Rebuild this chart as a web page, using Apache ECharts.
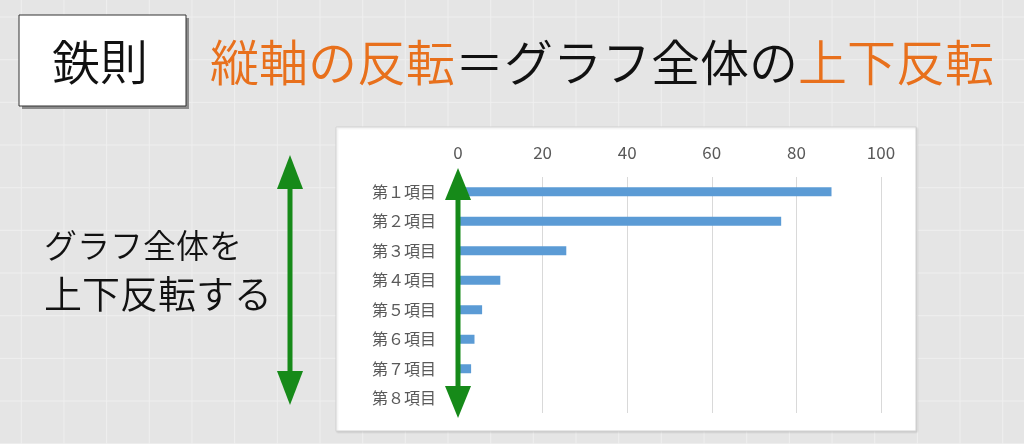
<!DOCTYPE html>
<html>
<head>
<meta charset="utf-8">
<script src="https://cdn.jsdelivr.net/npm/echarts@6/dist/echarts.min.js"></script>
<style>
  html, body { margin: 0; padding: 0; }
  #chart { width: 1024px; height: 444px; }
</style>
</head>
<body>
<div id="chart"></div>
<script>
// 項目名（上から順）
const categories = ['第１項目', '第２項目', '第３項目', '第４項目', '第５項目', '第６項目', '第７項目', '第８項目']
// 各項目の値
const values = [88.3, 76.4, 25.6, 10.0, 5.7, 3.9, 3.1, 0]
// 横軸の目盛
const xTicks = [0, 20, 40, 60, 80, 100]

const FONT = 'Noto Sans CJK JP'
const GREEN = '#168a19'
const ORANGE = '#e8701c'
const W = 350 // 文字の太さ

const chart = echarts.init(document.getElementById('chart'))

// 背景の方眼
const bgLines = []
for (let x = 21.3; x < 1024; x += 42.67) {
  bgLines.push({ type: 'line', z: -5, silent: true, shape: { x1: x, y1: 0, x2: x, y2: 444 }, style: { stroke: '#efefef', lineWidth: 1 } })
}
for (let y = 17; y < 444; y += 42.67) {
  bgLines.push({ type: 'line', z: -5, silent: true, shape: { x1: 0, y1: y, x2: 1024, y2: y }, style: { stroke: '#efefef', lineWidth: 1 } })
}

// 両矢印
function arrow (cx, top, bottom, head, half) {
  return [
    { type: 'line', z: 20, shape: { x1: cx, y1: top + head - 2, x2: cx, y2: bottom - head + 2 }, style: { stroke: GREEN, lineWidth: 5 } },
    { type: 'polygon', z: 20, shape: { points: [[cx, top], [cx - half, top + head], [cx + half, top + head]] }, style: { fill: GREEN } },
    { type: 'polygon', z: 20, shape: { points: [[cx, bottom], [cx - half, bottom - head], [cx + half, bottom - head]] }, style: { fill: GREEN } }
  ]
}

const option = {
  backgroundColor: '#e5e5e5',
  animation: false,
  textStyle: { fontFamily: FONT },
  grid: { left: 458, right: 143, top: 177, bottom: 31 },
  xAxis: {
    type: 'value',
    position: 'top',
    min: xTicks[0],
    max: xTicks[xTicks.length - 1],
    interval: xTicks[1] - xTicks[0],
    axisLine: { show: false },
    axisTick: { show: false },
    axisLabel: { color: '#595959', fontSize: 17, fontFamily: FONT, margin: 16 },
    splitLine: { lineStyle: { color: '#d9d9d9', width: 1 } }
  },
  yAxis: {
    type: 'category',
    inverse: true,
    data: categories,
    axisLine: { lineStyle: { color: '#bfbfbf' } },
    axisTick: { show: false },
    axisLabel: { color: '#595959', fontSize: 16, fontFamily: FONT, margin: 22 }
  },
  series: [{
    type: 'bar',
    data: values,
    barWidth: 9,
    itemStyle: { color: '#5b9bd5' }
  }],
  graphic: [
    ...bgLines,
    // グラフ領域
    { type: 'rect', z: -2, silent: true, shape: { x: 336, y: 127, width: 580, height: 304 }, style: { fill: '#ffffff', stroke: '#d4d4d4', lineWidth: 1, shadowColor: 'rgba(0,0,0,0.12)', shadowBlur: 2, shadowOffsetX: 1, shadowOffsetY: 1 } },
    // 鉄則ボックス
    { type: 'rect', z: -1, shape: { x: 22, y: 18, width: 167, height: 91 }, style: { fill: '#8c8c8c' } },
    { type: 'rect', z: 1, shape: { x: 19, y: 15, width: 167, height: 91 }, style: { fill: '#ffffff', stroke: '#333333', lineWidth: 1 } },
    { type: 'text', z: 2, x: 100, y: 62, style: { text: '鉄則', fontFamily: FONT, fontWeight: W, fontSize: 48, fill: '#111111', align: 'center', verticalAlign: 'middle' } },
    // タイトル
    {
      type: 'text', z: 2, x: 210, y: 62,
      style: {
        text: '{o|縦軸の反転}{k|＝グラフ全体の}{o|上下反転}',
        fontFamily: FONT, fontSize: 49, fontWeight: W, verticalAlign: 'middle',
        rich: {
          o: { fill: ORANGE, fontSize: 49, fontWeight: W, fontFamily: FONT },
          k: { fill: '#111111', fontSize: 49, fontWeight: W, fontFamily: FONT }
        }
      }
    },
    // 左の説明
    { type: 'text', z: 2, x: 44, y: 245, style: { text: 'グラフ全体を', fontFamily: FONT, fontWeight: W, fontSize: 33, fill: '#111111', verticalAlign: 'middle' } },
    { type: 'text', z: 2, x: 44, y: 294, style: { text: '上下反転する', fontFamily: FONT, fontWeight: W, fontSize: 38, fill: '#111111', verticalAlign: 'middle' } },
    ...arrow(290, 155, 405, 34, 13),
    ...arrow(458, 168, 418, 32, 13)
  ]
}

chart.setOption(option)
</script>
</body>
</html>
